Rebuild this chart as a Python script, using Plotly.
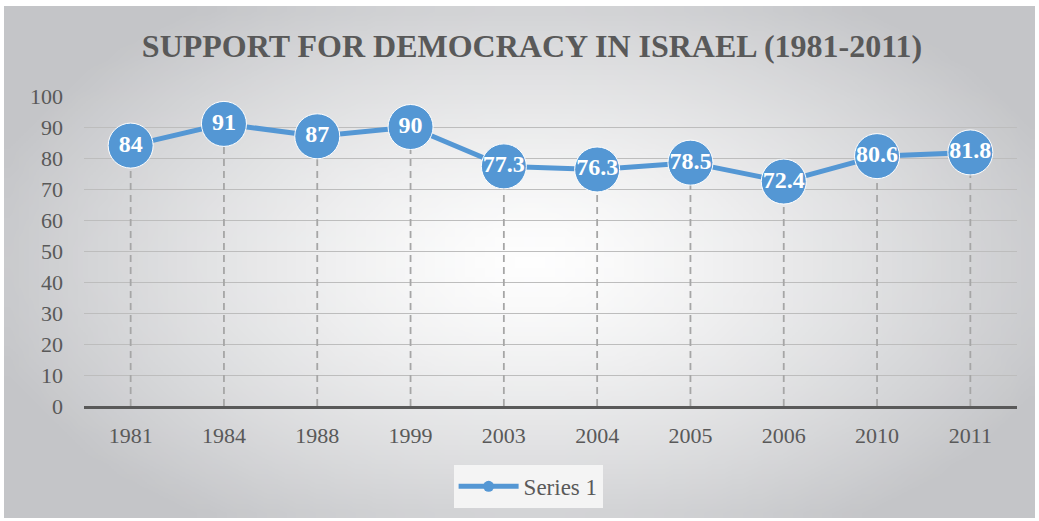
import base64
import struct
import zlib

import numpy as np
import plotly.graph_objects as go

# data
years = ['1981', '1984', '1988', '1999', '2003', '2004', '2005', '2006', '2010', '2011']
support = [84, 91, 87, 90, 77.3, 76.3, 78.5, 72.4, 80.6, 81.8]
y_ticks = [0, 10, 20, 30, 40, 50, 60, 70, 80, 90, 100]

BLUE = '#5497d4'
GREY_TEXT = '#595959'
SERIF = 'Liberation Serif, Times New Roman, serif'


# radial grey-to-white background, built as a small png
def gradient_png(w=104, h=52):
    xs = (np.arange(w) + 0.5) / w
    ys = (np.arange(h) + 0.5) / h
    gx, gy = np.meshgrid(xs, ys)
    t = np.sqrt(((gx - 0.51) / 0.55) ** 2 + ((gy - 0.5) / 0.62) ** 2)
    t = np.clip(t, 0, 1) ** 1.3
    edge = np.array([196, 197, 200])
    centre = np.array([255, 255, 255])
    img = (centre[None, None, :] * (1 - t[..., None]) + edge[None, None, :] * t[..., None]).astype(np.uint8)
    raw = b''.join(b'\x00' + img[r].tobytes() for r in range(h))

    def chunk(tag, data):
        c = tag + data
        return struct.pack('>I', len(data)) + c + struct.pack('>I', zlib.crc32(c) & 0xffffffff)

    png = b'\x89PNG\r\n\x1a\n'
    png += chunk(b'IHDR', struct.pack('>IIBBBBB', w, h, 8, 2, 0, 0, 0))
    png += chunk(b'IDAT', zlib.compress(raw, 9))
    png += chunk(b'IEND', b'')
    return 'data:image/png;base64,' + base64.b64encode(png).decode()


# dashed drop lines from each point down to zero
drop_x, drop_y = [], []
for yr, v in zip(years, support):
    drop_x += [yr, yr, None]
    drop_y += [0, v, None]

fig = go.Figure()

fig.add_trace(go.Scatter(
    x=drop_x, y=drop_y, mode='lines',
    line=dict(color='#a6a6a6', width=1.8, dash='7px,5px'),
    hoverinfo='skip', showlegend=False
))

fig.add_trace(go.Scatter(
    x=years, y=support,
    mode='lines+markers+text',
    text=[f'{v:g}' for v in support],
    textposition='middle center',
    textfont=dict(family=SERIF, size=24, color='white', weight='bold'),
    line=dict(color=BLUE, width=5),
    marker=dict(size=45, color=BLUE, line=dict(color='white', width=1)),
    showlegend=False
))

# legend entry
fig.add_trace(go.Scatter(
    x=[None], y=[None], mode='lines+markers', name='Series 1',
    line=dict(color=BLUE, width=5),
    marker=dict(size=11, color=BLUE)
))

fig.update_layout(
    width=1039, height=521,
    margin=dict(l=84, r=22, t=96, b=115),
    paper_bgcolor='white',
    plot_bgcolor='rgba(0,0,0,0)',
    title=dict(
        text='<b>SUPPORT FOR DEMOCRACY IN ISRAEL (1981-2011)</b>',
        x=0.512, xanchor='center', y=0.913, yanchor='middle',
        font=dict(family=SERIF, size=32, color=GREY_TEXT)
    ),
    images=[dict(
        source=gradient_png(), xref='paper', yref='paper',
        x=-80 / 933, y=1 + 90 / 310, sizex=1031 / 933, sizey=512 / 310,
        xanchor='left', yanchor='top', sizing='stretch', layer='below'
    )],
    legend=dict(
        orientation='h', x=0.476, xanchor='center', y=-0.19, yanchor='top',
        bgcolor='#f4f4f4', itemwidth=60,
        font=dict(family=SERIF, size=23, color=GREY_TEXT)
    ),
    xaxis=dict(
        type='category', range=[-0.5, 9.5],
        showgrid=False, showline=True, linecolor='#595959', linewidth=3,
        ticks='', ticklabelstandoff=8,
        tickfont=dict(family=SERIF, size=22, color=GREY_TEXT)
    ),
    yaxis=dict(
        range=[0, 100], tickvals=y_ticks,
        showgrid=True, gridcolor='#bdbdbd', gridwidth=1.2,
        zeroline=False, showline=False, ticks='', ticklabelstandoff=20,
        tickfont=dict(family=SERIF, size=22, color=GREY_TEXT)
    ),
    hovermode=False
)

# drop the page's default body margin so the figure sits at the top-left corner
fig.write_html('out.html', config={'displayModeBar': False},
               post_script="document.body.style.margin='0';")
